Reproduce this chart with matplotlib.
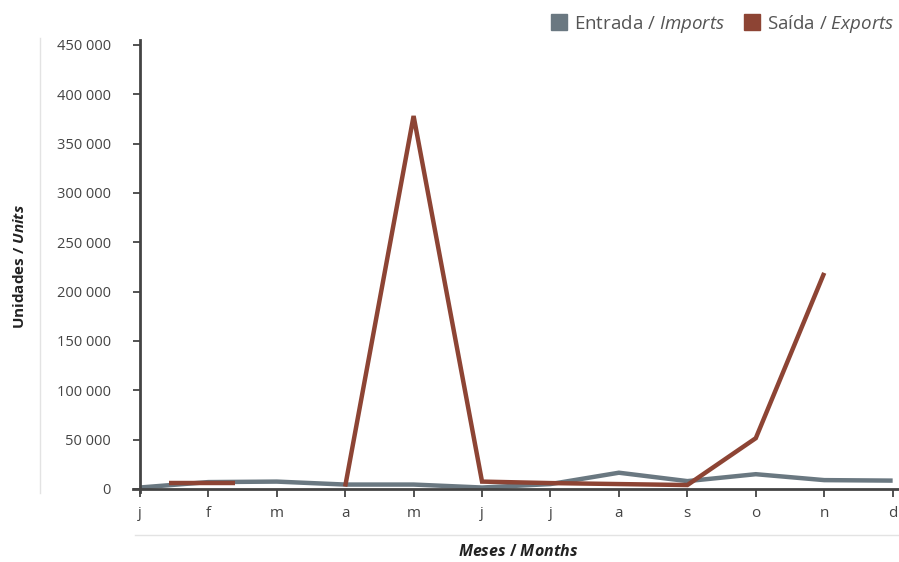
import matplotlib
matplotlib.use("Agg")
import matplotlib.pyplot as plt
import numpy as np
from matplotlib.lines import Line2D
from matplotlib.ticker import FuncFormatter

FONT = 'Open Sans'
plt.rcParams['font.family'] = [FONT, 'DejaVu Sans']
plt.rcParams['mathtext.fontset'] = 'custom'
plt.rcParams['mathtext.it'] = FONT + ':italic'
plt.rcParams['mathtext.rm'] = FONT
plt.rcParams['mathtext.bf'] = FONT + ':bold'
plt.rcParams['mathtext.bfit'] = FONT + ':italic:bold'

months = ['j', 'f', 'm', 'a', 'm', 'j', 'j', 'a', 's', 'o', 'n', 'd']
imports = [1500, 7000, 7500, 4500, 4500, 1500, 5000, 16500, 8000, 15000, 9000, 8500]
exports = [None, 6000, None, 2500, 378000, 7500, 6000, 5000, 4000, 51500, 219000, None]
yticks = [0, 50000, 100000, 150000, 200000, 250000, 300000, 350000, 400000, 450000]

c_imp = '#6a7881'
c_exp = '#8d4434'
c_txt = '#444444'

fig = plt.figure(figsize=(8.99, 5.62), dpi=100)
ax = fig.add_axes([133/899, 1-489/562, (899.5-133)/899, (489-40)/562])

x = np.arange(len(months))
imp = np.array(imports, dtype=float)
exp = np.array([np.nan if v is None else v for v in exports], dtype=float)

ax.plot(x, imp, color=c_imp, lw=3.2, solid_capstyle='butt', solid_joinstyle='miter', clip_on=False, zorder=3)
ax.plot(x, exp, color=c_exp, lw=3.2, solid_capstyle='butt', solid_joinstyle='miter', clip_on=False, zorder=4)
# isolated points drawn as short dashes
for i in range(len(exp)):
    if np.isnan(exp[i]):
        continue
    left = i == 0 or np.isnan(exp[i-1])
    right = i == len(exp)-1 or np.isnan(exp[i+1])
    if left and right:
        ax.plot([x[i]-0.57, x[i]+0.39], [exp[i], exp[i]], color=c_exp, lw=3.2,
                solid_capstyle='butt', zorder=4)

ax.set_xlim(-0.1, 11.1)
ax.set_ylim(0, 455000)
ax.set_xticks(x)
ax.set_xticklabels(months)
ax.set_yticks(yticks)
ax.yaxis.set_major_formatter(FuncFormatter(lambda v, p: f"{int(v):,}".replace(',', ' ')))

for s in ['top', 'right']:
    ax.spines[s].set_visible(False)
ax.spines['left'].set_position(('data', 0))
ax.spines['left'].set_bounds(-3000, 455000)
for s in ['left', 'bottom']:
    ax.spines[s].set_color('#444444')
    ax.spines[s].set_linewidth(2.0)
    ax.spines[s].set_zorder(5)

ax.tick_params(axis='y', length=5, width=1.3, color='#444444', pad=16, labelsize=10.5, labelcolor=c_txt)
ax.tick_params(axis='x', length=6, width=1.3, color='#444444', pad=6, labelsize=11, labelcolor=c_txt)

# axis titles
fig.text(20/899, 1-267/562, r'Unidades / $\mathbfit{Units}$', rotation=90, ha='center', va='center',
         fontsize=11, fontweight='bold', color='#222222')
fig.text(518/899, 1-552/562, r'$\mathbfit{Meses}$ / $\mathbfit{Months}$', ha='center', va='center',
         fontsize=11.5, fontweight='bold', color='#222222')

# separator lines
fig.add_artist(Line2D([40/899, 40/899], [1-38/562, 1-493/562], color='#e3e3e3', lw=1.0))
fig.add_artist(Line2D([135/899, 899/899], [1-535/562, 1-535/562], color='#e3e3e3', lw=1.0))

# legend
handles = [Line2D([], [], marker='s', ls='', color=c_imp, markersize=12),
           Line2D([], [], marker='s', ls='', color=c_exp, markersize=12)]
labels = [r'Entrada / $\mathit{Imports}$', r'Saída / $\mathit{Exports}$']
leg = fig.legend(handles, labels, loc='upper right', bbox_to_anchor=(1.012, 1.006), ncol=2, frameon=False,
                 fontsize=13.5, handletextpad=0.3, columnspacing=0.9, handlelength=1.0, borderaxespad=0.45)
for t in leg.get_texts():
    t.set_color('#555555')

fig.savefig('out.png', dpi=100)
